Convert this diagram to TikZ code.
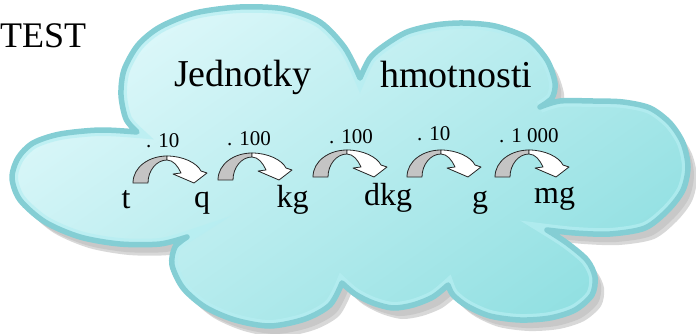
\documentclass[tikz,border=0pt]{standalone}
\usepackage{fontspec}
\setmainfont{Liberation Serif}
\usetikzlibrary{calc, positioning}

\definecolor{cloudlight}{RGB}{222,248,250}
\definecolor{clouddark}{RGB}{146,224,226}
\definecolor{cloudline}{RGB}{132,206,212}
\definecolor{cloudglow}{RGB}{182,238,242}
\definecolor{cloudshadow}{RGB}{200,200,200}
\definecolor{arrowback}{RGB}{196,196,196}

% obrys oblaku (jednotlive laloky, ve spicich se lamou)
\newcommand{\cloudpath}{%
  plot[smooth] coordinates {(137,201) (126,214) (121,238) (124,263) (138,288) (160,306) (195,320) (240,326) (285,324) (320,311) (345,285) (360,255)}
  -- plot[smooth] coordinates {(360,255) (370,275) (385,288) (407,301) (435,308) (463,310) (495,307) (527,295) (547,273) (555,250) (552,235) (540,226)}
  -- plot[smooth] coordinates {(540,226) (560,232) (593,232) (623,231) (650,225) (670,210) (683,190) (688,166) (683,143) (668,123) (645,105) (610,99) (575,100) (547,103)}
  -- plot[smooth] coordinates {(547,103) (567,90) (587,73) (595,56) (592,38) (575,23) (550,15) (520,13) (490,17) (467,27) (453,38) (448,48)}
  -- plot[smooth] coordinates {(448,48) (433,36) (413,28) (393,25) (373,30) (355,39) (342,50)}
  -- plot[smooth] coordinates {(342,50) (330,28) (305,14) (270,7) (235,13) (205,26) (183,45) (172,68) (175,86) (187,96)}
  -- plot[smooth] coordinates {(187,96) (160,89) (120,89) (80,96) (45,111) (20,133) (12,155) (18,175) (33,190) (60,199) (100,203) (137,201)}
  -- cycle}

\tikzset{
  titletext/.style={font=\fontsize{38}{42}\selectfont, anchor=base west, inner sep=0pt},
  unittext/.style={font=\fontsize{32}{36}\selectfont, anchor=base west, inner sep=0pt},
  factortext/.style={font=\fontsize{21}{24}\selectfont, anchor=base west, inner sep=0pt},
  arrowedge/.style={draw=black!85, line width=0.8pt, line join=round},
  convarrow/.pic={
    \filldraw[arrowedge, fill=arrowback] (-34,0) .. controls (-34,16) and (-18,27) .. (0,27)
      -- (0,23) .. controls (-10.5,23) and (-19,12.5) .. (-19,0) -- cycle;
    \filldraw[arrowedge, fill=white] (0,27) .. controls (16,27) and (30,20) .. (34,12)
      -- (40,10) -- (27,0) -- (6,9) -- (14,10) .. controls (11,17) and (6,23) .. (0,23) -- cycle;
  }
}

\begin{document}
\begin{tikzpicture}[x=1pt, y=1pt]

    % =================================================================
    % 1. OKRAJE OBRAZKU A SOURADNICE SIPEK
    % =================================================================
    \useasboundingbox (0,0) rectangle (696,333);

    \coordinate (A1) at (167,150);
    \coordinate (A2) at (252,153);
    \coordinate (A3) at (347,156);
    \coordinate (A4) at (441,156);
    \coordinate (A5) at (529,156);

    % =================================================================
    % 2. OBLAK: STIN, VYPLN A OKRAJ
    % =================================================================
    \fill[cloudshadow!70, shift={(9,-11)}] \cloudpath;
    \fill[cloudshadow, shift={(6,-8)}] \cloudpath;

    \begin{scope}
        \clip \cloudpath;
        \shade[top color=cloudlight, bottom color=clouddark, shading angle=35]
            (0,0) rectangle (696,333);
        \draw[cloudglow, line width=12pt, opacity=0.7] \cloudpath;
    \end{scope}

    \draw[cloudline, line width=5.5pt, line join=round] \cloudpath;

    % =================================================================
    % 3. NADPISY
    % =================================================================
    \node[titletext, font=\fontsize{36}{40}\selectfont] (test) at (0,286) {TEST};
    \node[titletext] (jednotky) at (174,247) {Jednotky};
    \node[titletext] (hmotnosti) at (380,246) {hmotnosti};

    % =================================================================
    % 4. SIPKY PREVODU A JEJICH NASOBKY
    % =================================================================
    \pic at (A1) {convarrow};
    \pic at (A2) {convarrow};
    \pic at (A3) {convarrow};
    \pic at (A4) {convarrow};
    \pic at (A5) {convarrow};

    \node[factortext] (f1) at (146,186) {. 10};
    \node[factortext] (f2) at (227,188) {. 100};
    \node[factortext] (f3) at (329,190) {. 100};
    \node[factortext] (f4) at (417,193) {. 10};
    \node[factortext] (f5) at (499,191) {. 1 000};

    % =================================================================
    % 5. JEDNOTKY HMOTNOSTI
    % =================================================================
    \node[unittext] (t) at (121.5,125) {t};
    \node[unittext] (q) at (194,126) {q};
    \node[unittext] (kg) at (276.5,126) {kg};
    \node[unittext] (dkg) at (364,128) {dkg};
    \node[unittext] (g) at (472,126) {g};
    \node[unittext] (mg) at (534,130) {mg};

\end{tikzpicture}
\end{document}
